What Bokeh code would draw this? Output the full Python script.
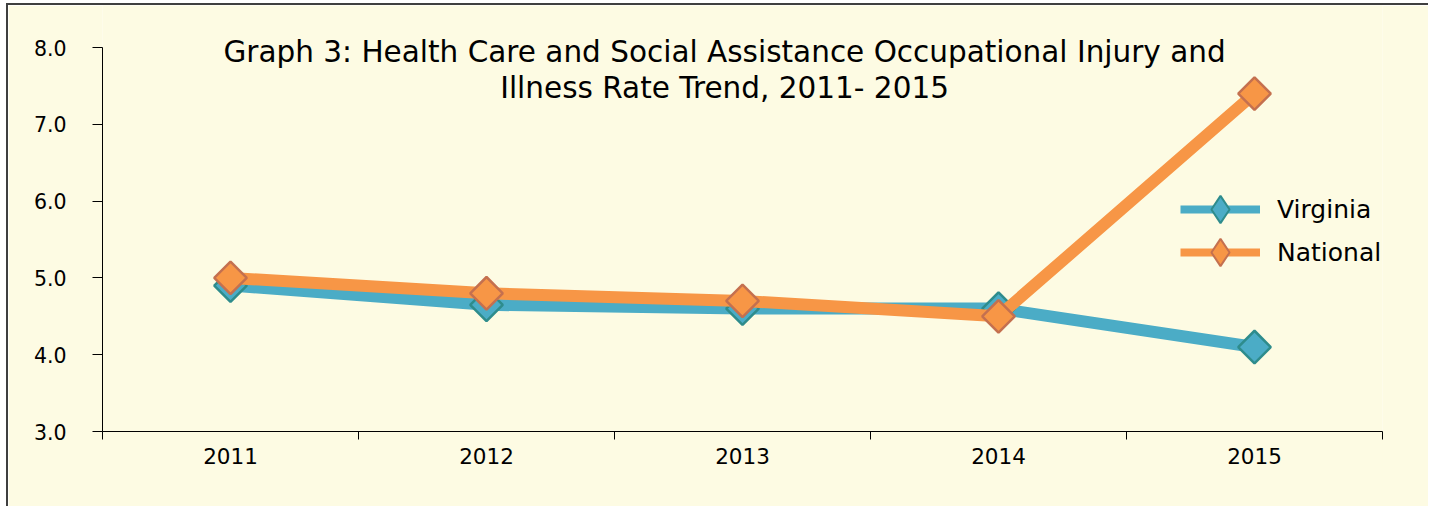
import math
from bokeh.plotting import figure
from bokeh.models import (Range1d, LinearAxis, FixedTicker,
                          PrintfTickFormatter, Label, Legend, LegendItem, ColumnDataSource)
from bokeh.embed import file_html
from bokeh.resources import INLINE

years = ["2011", "2012", "2013", "2014", "2015"]
virginia = [4.9, 4.65, 4.6, 4.6, 4.1]
national = [5.0, 4.8, 4.7, 4.5, 7.4]
y_ticks = [3, 4, 5, 6, 7, 8]
title_lines = ["Graph 3: Health Care and Social Assistance Occupational Injury and",
               "Illness Rate Trend, 2011- 2015"]

BG = "#FDFBE3"
TEAL = "#4BACC6"
TEAL_EDGE = "#2E8C8C"
ORANGE = "#F79646"
ORANGE_EDGE = "#C4704F"
FONT = "DejaVu Sans"

pos = list(range(len(years)))

# frame is 426 px tall; axis spans 3..8 over its lower 384 px, leaving room for the title
Y_MIN, Y_MAX = y_ticks[0], y_ticks[-1]
y_top = Y_MAX + 42 * (Y_MAX - Y_MIN) / 384

p = figure(width=1422, height=503,
           x_range=Range1d(-0.5, len(years) - 0.5),
           y_range=Range1d(Y_MIN, y_top),
           x_axis_location=None, y_axis_location=None,
           toolbar_location=None, output_backend="svg",
           min_border_left=94, min_border_right=48, min_border_top=0, min_border_bottom=77,
           background_fill_color=BG, border_fill_color=BG, outline_line_color=None)
p.styles = {"margin-left": "6px", "margin-top": "3px",
            "border-left": "2px solid #3f3f3f", "border-top": "2px solid #3f3f3f"}
p.xgrid.visible = False
p.ygrid.visible = False

# y axis
yax = LinearAxis(ticker=FixedTicker(ticks=y_ticks), formatter=PrintfTickFormatter(format="%.1f"),
                 bounds=(Y_MIN, Y_MAX),
                 major_tick_out=10, major_tick_in=0, minor_tick_out=0, minor_tick_in=0,
                 major_label_standoff=26, axis_line_color="black", major_tick_line_color="black",
                 major_label_text_font=FONT, major_label_text_font_size="20.5px",
                 major_label_text_color="black")
p.add_layout(yax, "left")

# x axis: labels at category centres, tick marks (minor) at category boundaries
xax = LinearAxis(ticker=FixedTicker(ticks=pos,
                                    minor_ticks=[i - 0.5 for i in range(len(years) + 1)]),
                 major_label_overrides={i: y for i, y in zip(pos, years)},
                 axis_line_color="black", major_tick_line_color=None,
                 minor_tick_line_color="black",
                 major_tick_out=8, major_tick_in=0, minor_tick_out=8, minor_tick_in=0,
                 major_label_standoff=8,
                 major_label_text_font=FONT, major_label_text_font_size="21.5px",
                 major_label_text_color="black")
p.add_layout(xax, "below")

src_v = ColumnDataSource(dict(x=pos, year=years, y=virginia))
src_n = ColumnDataSource(dict(x=pos, year=years, y=national))

# Virginia: thin line + small diamond (hidden under the drawn series) serve the legend
leg_v_line = p.line("x", "y", source=src_v, line_color=TEAL, line_width=8)
p.line("x", "y", source=src_v, line_color=TEAL, line_width=12)
leg_v_pt = p.scatter("x", "y", source=src_v, marker="diamond", size=10,
                     fill_color=TEAL, line_color=TEAL_EDGE, line_width=2)
p.scatter("x", "y", source=src_v, marker="square", angle=math.pi / 4, size=23,
          fill_color=TEAL, line_color=TEAL_EDGE, line_width=2.5)
# National
leg_n_line = p.line("x", "y", source=src_n, line_color=ORANGE, line_width=8)
p.line("x", "y", source=src_n, line_color=ORANGE, line_width=12)
leg_n_pt = p.scatter("x", "y", source=src_n, marker="diamond", size=10,
                     fill_color=ORANGE, line_color=ORANGE_EDGE, line_width=2)
p.scatter("x", "y", source=src_n, marker="square", angle=math.pi / 4, size=23,
          fill_color=ORANGE, line_color=ORANGE_EDGE, line_width=2.5)

legend_style = dict(padding=0, spacing=0, margin=0, glyph_width=80, glyph_height=68,
                    label_standoff=17, label_text_font=FONT, label_text_font_size="25px",
                    label_text_color="black", border_line_color=None, background_fill_alpha=0)
p.add_layout(Legend(items=[LegendItem(label="Virginia", renderers=[leg_v_line, leg_v_pt])],
                    location=(1078, 188), **legend_style), "center")
p.add_layout(Legend(items=[LegendItem(label="National", renderers=[leg_n_line, leg_n_pt])],
                    location=(1078, 145), **legend_style), "center")

for i, line in enumerate(title_lines):
    p.add_layout(Label(x=1.93, y=7.943 - 0.468 * i, text=line,
                       text_align="center", text_baseline="alphabetic",
                       text_font=FONT, text_font_size="29.5px", text_color="black"))

open("out.html", "w").write(file_html(p, INLINE))
